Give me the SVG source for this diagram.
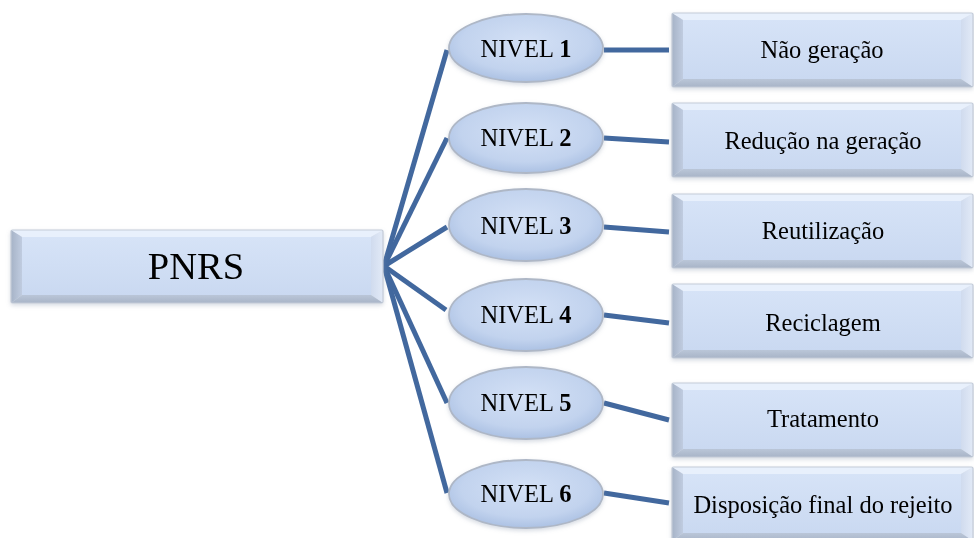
<svg xmlns="http://www.w3.org/2000/svg" xmlns:xlink="http://www.w3.org/1999/xlink" width="974" height="538" viewBox="0 0 974 538">
  <style>
    .conn { stroke: #42689e; stroke-width: 5; stroke-linecap: butt; fill: none; }
    .lbl { font-family: "Liberation Serif", "Times New Roman", serif; fill: #000; text-anchor: middle; }
    .lvl { font-size: 24.5px; }
    .lvl tspan { font-weight: bold; }
    .act { font-size: 24.5px; }
    .root { font-size: 38.5px; }
    .oval { fill: url(#ovalFill); stroke: #aeb7c6; stroke-width: 1.8; }
    .face { fill: url(#faceFill); }
    .bT { fill: #e8f0fc; }
    .bL { fill: url(#leftFill); }
    .bR { fill: url(#rightFill); }
    .bB { fill: url(#bottomFill); }
    .rim { fill: none; stroke: #c3cbd8; stroke-width: 1.2; }
  </style>
  <defs>
    <linearGradient id="faceFill" x1="0" y1="0" x2="0" y2="1">
      <stop offset="0" stop-color="#d6e3f7"/>
      <stop offset="1" stop-color="#cad9f1"/>
    </linearGradient>
    <linearGradient id="leftFill" x1="0" y1="0" x2="1" y2="0">
      <stop offset="0" stop-color="#a6b3c7"/>
      <stop offset="1" stop-color="#c0cce0"/>
    </linearGradient>
    <linearGradient id="rightFill" x1="0" y1="0" x2="1" y2="0">
      <stop offset="0" stop-color="#d0dbee"/>
      <stop offset="1" stop-color="#e2eaf7"/>
    </linearGradient>
    <linearGradient id="bottomFill" x1="0" y1="0" x2="0" y2="1">
      <stop offset="0" stop-color="#bac6d8"/>
      <stop offset="1" stop-color="#a8b4c7"/>
    </linearGradient>
    <radialGradient id="ovalFill" cx="0.5" cy="0.42" r="0.6">
      <stop offset="0" stop-color="#d4e1f6"/>
      <stop offset="0.7" stop-color="#c2d3ee"/>
      <stop offset="1" stop-color="#a9bfe2"/>
    </radialGradient>
    <filter id="soft" x="-10%" y="-10%" width="120%" height="130%">
      <feGaussianBlur in="SourceAlpha" stdDeviation="2"/>
      <feOffset dy="2" result="b"/>
      <feFlood flood-color="#8a97ad" flood-opacity="0.35"/>
      <feComposite in2="b" operator="in"/>
      <feMerge><feMergeNode/><feMergeNode in="SourceGraphic"/></feMerge>
    </filter>
    <!-- bevelled action box, 301 x 74 -->
    <g id="actBox">
      <rect class="face" x="11" y="7" width="278" height="59"/>
      <polygon class="bT" points="0,0 301,0 289,7 11,7"/>
      <polygon class="bL" points="0,0 11,7 11,66 0,74"/>
      <polygon class="bR" points="301,0 301,74 289,66 289,7"/>
      <polygon class="bB" points="0,74 11,66 289,66 301,74"/>
      <rect class="rim" x="0" y="0" width="301" height="74" rx="1.5"/>
    </g>
  </defs>

  <rect width="974" height="538" fill="#ffffff"/>

  <!-- connectors -->
  <g id="connectors">
    <line class="conn" x1="384" y1="266" x2="447" y2="50"/>
    <line class="conn" x1="384" y1="266" x2="447" y2="138"/>
    <line class="conn" x1="384" y1="266" x2="447" y2="227"/>
    <line class="conn" x1="384" y1="266" x2="446" y2="310"/>
    <line class="conn" x1="384" y1="266" x2="447" y2="403"/>
    <line class="conn" x1="384" y1="266" x2="447" y2="493"/>
    <line class="conn" x1="604" y1="50" x2="669" y2="50"/>
    <line class="conn" x1="604" y1="138" x2="669" y2="142"/>
    <line class="conn" x1="604" y1="227" x2="669" y2="232"/>
    <line class="conn" x1="604" y1="315" x2="669" y2="323"/>
    <line class="conn" x1="604" y1="403" x2="669" y2="420"/>
    <line class="conn" x1="604" y1="493" x2="669" y2="503"/>
  </g>

  <!-- root -->
  <g id="pnrs" filter="url(#soft)">
    <rect class="face" x="22" y="237" width="349" height="58"/>
    <polygon class="bT" points="11,230 383,230 371,237 22,237"/>
    <polygon class="bL" points="11,230 22,237 22,295 11,303"/>
    <polygon class="bR" points="383,230 383,303 371,295 371,237"/>
    <polygon class="bB" points="11,303 22,295 371,295 383,303"/>
    <rect class="rim" x="11" y="230" width="372" height="73" rx="1.5"/>
    <text class="lbl root" x="196" y="279">PNRS</text>
  </g>

  <!-- levels -->
  <g id="nivel1" filter="url(#soft)">
    <ellipse class="oval" cx="526" cy="48" rx="77" ry="34"/>
    <text class="lbl lvl" x="526" y="57">NIVEL <tspan>1</tspan></text>
  </g>
  <g id="nivel2" filter="url(#soft)">
    <ellipse class="oval" cx="526" cy="138" rx="77" ry="35"/>
    <text class="lbl lvl" x="526" y="146">NIVEL <tspan>2</tspan></text>
  </g>
  <g id="nivel3" filter="url(#soft)">
    <ellipse class="oval" cx="526" cy="225" rx="77" ry="36"/>
    <text class="lbl lvl" x="526" y="234">NIVEL <tspan>3</tspan></text>
  </g>
  <g id="nivel4" filter="url(#soft)">
    <ellipse class="oval" cx="526" cy="315" rx="77" ry="36"/>
    <text class="lbl lvl" x="526" y="323">NIVEL <tspan>4</tspan></text>
  </g>
  <g id="nivel5" filter="url(#soft)">
    <ellipse class="oval" cx="526" cy="403" rx="77" ry="36"/>
    <text class="lbl lvl" x="526" y="411">NIVEL <tspan>5</tspan></text>
  </g>
  <g id="nivel6" filter="url(#soft)">
    <ellipse class="oval" cx="526" cy="494" rx="77" ry="34"/>
    <text class="lbl lvl" x="526" y="502">NIVEL <tspan>6</tspan></text>
  </g>

  <!-- actions -->
  <g id="acao1" filter="url(#soft)">
    <use href="#actBox" x="672" y="13"/>
    <text class="lbl act" x="822" y="58">Não geração</text>
  </g>
  <g id="acao2" filter="url(#soft)">
    <use href="#actBox" x="672" y="103"/>
    <text class="lbl act" x="823" y="149">Redução na geração</text>
  </g>
  <g id="acao3" filter="url(#soft)">
    <use href="#actBox" x="672" y="194"/>
    <text class="lbl act" x="823" y="239">Reutilização</text>
  </g>
  <g id="acao4" filter="url(#soft)">
    <use href="#actBox" x="672" y="284"/>
    <text class="lbl act" x="823" y="331">Reciclagem</text>
  </g>
  <g id="acao5" filter="url(#soft)">
    <use href="#actBox" x="672" y="383"/>
    <text class="lbl act" x="823" y="427">Tratamento</text>
  </g>
  <g id="acao6" filter="url(#soft)">
    <use href="#actBox" x="672" y="467"/>
    <text class="lbl act" x="823" y="513">Disposição final do rejeito</text>
  </g>
</svg>
